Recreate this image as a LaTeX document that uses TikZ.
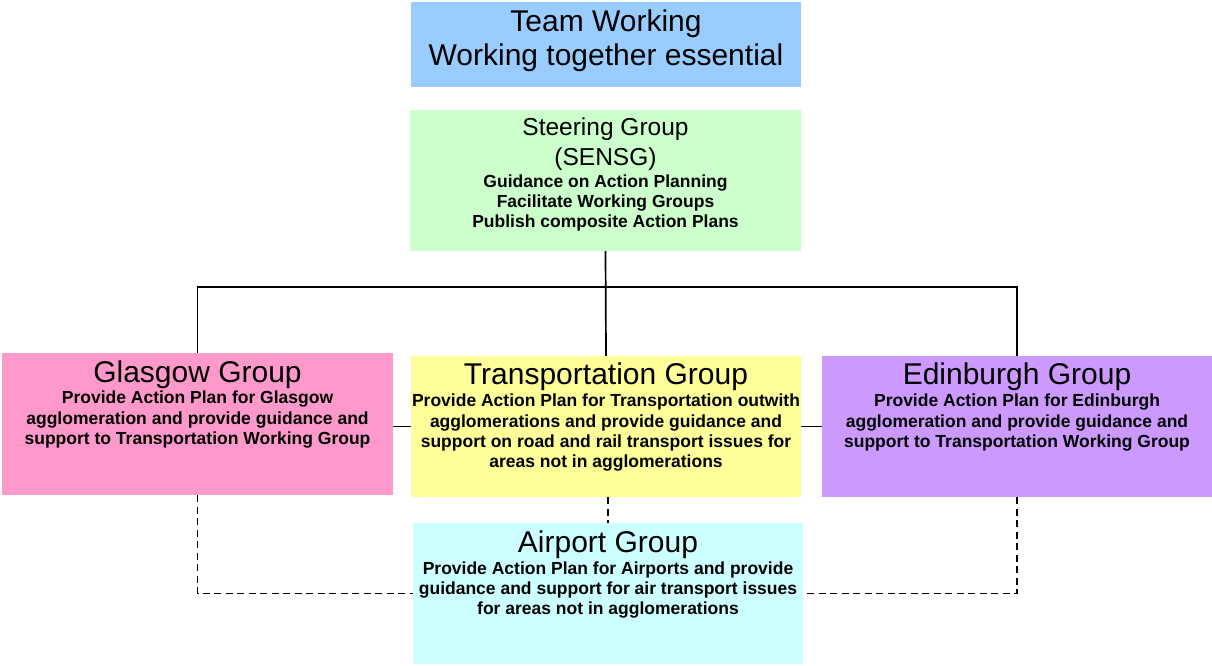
\documentclass[tikz,border=0pt]{standalone}
\usepackage{fontspec}
\setmainfont{Liberation Sans}
\definecolor{cteam}{HTML}{99CCFF}
\definecolor{csteer}{HTML}{CCFFCC}
\definecolor{cglas}{HTML}{FF99CC}
\definecolor{ctrans}{HTML}{FFFF99}
\definecolor{cedin}{HTML}{CC99FF}
\definecolor{cair}{HTML}{CCFFFF}
\tikzset{
  box/.style={draw=none, inner sep=0pt, minimum width=390pt, minimum height=141pt},
  grouptitle/.style={inner sep=0pt, anchor=base, font=\fontsize{30}{34}\selectfont},
  desc/.style={inner sep=0pt, anchor=north, align=center, font=\fontsize{17.5}{20.4}\selectfont\bfseries},
  solidline/.style={line width=1.7pt, black},
  dashline/.style={line width=1.7pt, black, dash pattern=on 7pt off 4.5pt},
}
\begin{document}
\begin{tikzpicture}[x=1pt, y=-1pt]
\useasboundingbox (0,0) rectangle (1212,665);
% boxes
\node[box, fill=cteam, minimum height=85pt] (team) at (606,44.5) {};
\node[box, fill=csteer, minimum width=391pt] (steer) at (605.5,180.5) {};
\node[box, fill=cglas, minimum width=391pt, minimum height=142pt] (glas) at (197.5,424) {};
\node[box, fill=ctrans] (trans) at (606,426.5) {};
\node[box, fill=cedin] (edin) at (1017,426.5) {};
\node[box, fill=cair] (air) at (608,593.5) {};
\coordinate (bus) at (606,287);
% texts
\node[inner sep=0pt, anchor=north, align=center, font=\fontsize{30}{34}\selectfont] (teamtxt) at ([yshift=-7.5pt]team.north) {Team Working\\Working together essential};
\node[inner sep=0pt, anchor=north, align=center, font=\fontsize{24.5}{30}\selectfont] (steertitle) at ([yshift=-8pt]steer.north) {Steering Group\\(SENSG)};
\node[desc] (steerdesc) at ([yshift=-64.5pt]steer.north) {Guidance on Action Planning\\Facilitate Working Groups\\Publish composite Action Plans};
\node[grouptitle] (glastitle) at ([yshift=-29.5pt]glas.north) {Glasgow Group};
\node[desc] (glasdesc) at ([yshift=-38pt]glas.north) {Provide Action Plan for Glasgow\\agglomeration and provide guidance and\\support to Transportation Working Group};
\node[grouptitle] (transtitle) at ([yshift=-29pt]trans.north) {Transportation Group};
\node[desc] (transdesc) at ([yshift=-38pt]trans.north) {Provide Action Plan for Transportation outwith\\agglomerations and provide guidance and\\support on road and rail transport issues for\\areas not in agglomerations};
\node[grouptitle] (edintitle) at ([yshift=-29pt]edin.north) {Edinburgh Group};
\node[desc] (edindesc) at ([yshift=-38pt]edin.north) {Provide Action Plan for Edinburgh\\agglomeration and provide guidance and\\support to Transportation Working Group};
\node[grouptitle] (airtitle) at ([yshift=-29.5pt]air.north) {Airport Group};
\node[desc] (airdesc) at ([yshift=-38.5pt]air.north) {Provide Action Plan for Airports and provide\\guidance and support for air transport issues\\for areas not in agglomerations};
% solid connectors
\draw[solidline] (steer.south) -- (trans.north);
\draw[solidline] (glas.north) -- (glas.north |- bus) -- (edin.north |- bus) -- (edin.north);
\draw[solidline] (trans.west -| glas.east) -- (trans.west);
\draw[solidline] (trans.east) -- (edin.west);
% dashed connectors
\draw[dashline] (air.north |- trans.south) -- (air.north);
\draw[dashline] (glas.south) -- (glas.south |- air.west) -- (air.west);
\draw[dashline] (edin.south) -- (edin.south |- air.east) -- (air.east);
\end{tikzpicture}
\end{document}
